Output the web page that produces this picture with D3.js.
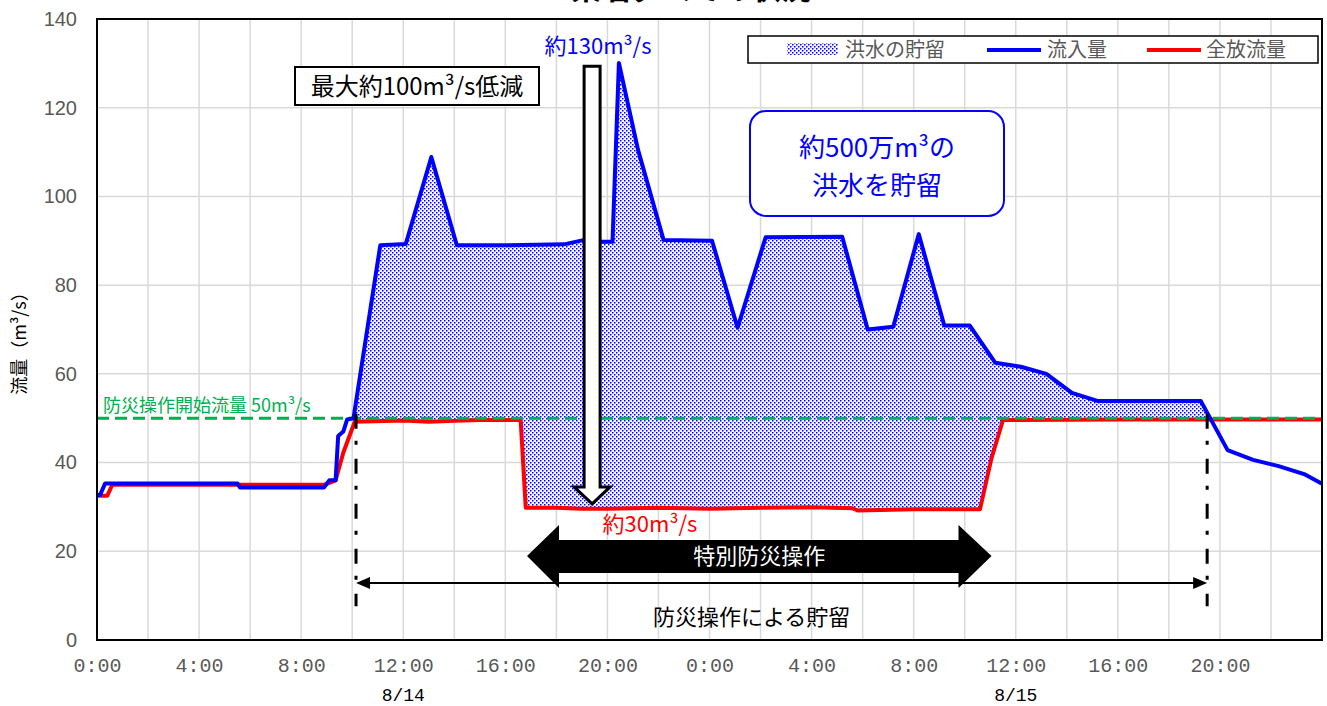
<!DOCTYPE html>
<html lang="ja">
<head>
<meta charset="utf-8">
<script src="https://cdn.jsdelivr.net/npm/d3@7"></script>
<style>
  html, body { margin: 0; padding: 0; background: #fff; }
  svg { display: block; }
  .jp { font-family: "Noto Sans CJK JP", "Noto Sans", sans-serif; }
</style>
</head>
<body>
<svg id="chart" width="1327" height="706"></svg>
<script>
// Hours counted from 8/13 0:00; values in m³/s
const inflowHours  = [0, 0.12, 0.32, 5.5, 5.6, 8.9, 9.1, 9.35, 9.45, 9.65, 9.8, 10.05, 11.1, 12.1, 13.1, 14.1, 16, 18.3, 19.1, 19.8, 20.2, 20.45, 21.2, 22.2, 24.1, 25.1, 26.2, 29.2, 30.2, 31.2, 32.2, 33.2, 34.2, 35.2, 36.2, 37.2, 38.2, 39.2, 43.25, 44.3, 45.3, 46.3, 47.3, 48];
const inflowValues = [32.7, 32.7, 35.3, 35.3, 34.4, 34.4, 36, 36, 46, 47, 49.7, 50, 89.0, 89.3, 108.9, 89.0, 89.0, 89.2, 90.2, 89.8, 89.8, 130.1, 110.5, 90.2, 90.0, 70.4, 90.8, 90.9, 70.0, 70.6, 91.5, 70.9, 70.9, 62.5, 61.6, 60.0, 55.7, 53.9, 53.9, 42.8, 40.6, 39.2, 37.4, 35.2];

const releaseHours  = [0, 0.4, 0.6, 8.9, 9.1, 9.35, 9.65, 10.1, 12, 13, 14, 15, 16.6, 16.8, 18, 19, 20, 22, 24, 26, 28, 29.6, 29.8, 32, 34.6, 35.05, 35.5, 40, 44, 48];
const releaseValues = [32.5, 32.5, 35, 35, 35.4, 36, 42.2, 49.2, 49.5, 49.2, 49.4, 49.6, 49.6, 29.8, 29.8, 29.6, 29.6, 29.8, 29.6, 29.8, 29.9, 29.7, 29.2, 29.5, 29.5, 41, 49.6, 49.7, 49.7, 49.7];

const thresholdValue = 50;              // 防災操作開始流量
const operationPeriod = [10.15, 43.5];  // 防災操作による貯留
const specialPeriod   = [16.85, 35.05]; // 特別防災操作
const reductionHour = 19.4;
const peakInflow = 130;
const specialRelease = 30;

const yTicks = [0, 20, 40, 60, 80, 100, 120, 140];
const xTickHours  = [0, 4, 8, 12, 16, 20, 24, 28, 32, 36, 40, 44];
const xTickLabels = ["0:00", "4:00", "8:00", "12:00", "16:00", "20:00", "0:00", "4:00", "8:00", "12:00", "16:00", "20:00"];
const dateHours  = [12, 36];
const dateLabels = ["8/14", "8/15"];

const legendLabels = ["洪水の貯留", "流入量", "全放流量"];

const BLUE = "#0000ff", RED = "#ff0000", GREEN = "#00b050", GRAY = "#595959";

const svg = d3.select("#chart");
const L = 97, R = 1322, T = 19, B = 640;
const x = d3.scaleLinear().domain([0, 48]).range([L, R]);
const y = d3.scaleLinear().domain([0, 140]).range([B, T]);

const inflow  = inflowHours.map((h, i) => [h, inflowValues[i]]);
const release = releaseHours.map((h, i) => [h, releaseValues[i]]);

// dotted fill pattern
const defs = svg.append("defs");
const pat = defs.append("pattern").attr("id", "dots")
  .attr("patternUnits", "userSpaceOnUse").attr("width", 4).attr("height", 4);
pat.append("rect").attr("width", 4).attr("height", 4).attr("fill", "#f6f7ff");
pat.append("rect").attr("x", 0).attr("y", 0).attr("width", 1.5).attr("height", 1.5).attr("fill", BLUE);
pat.append("rect").attr("x", 2).attr("y", 2).attr("width", 1.5).attr("height", 1.5).attr("fill", BLUE);

// title (runs off the top edge of the page)
svg.append("text").attr("class", "jp")
  .attr("x", 691).attr("y", -1).attr("text-anchor", "middle")
  .attr("font-size", 30).attr("font-weight", "bold").attr("fill", "#000")
  .text("某名ダムでの状況");

// gridlines
const grid = svg.append("g").attr("stroke", "#d9d9d9").attr("stroke-width", 1.5);
grid.selectAll(".gx").data(d3.range(2, 48, 2)).join("line")
  .attr("x1", d => x(d)).attr("x2", d => x(d)).attr("y1", T).attr("y2", B);
grid.selectAll(".gy").data(yTicks.slice(1, -1)).join("line")
  .attr("x1", L).attr("x2", R).attr("y1", d => y(d)).attr("y2", d => y(d));

// axes
const yAxis = svg.append("g").attr("transform", `translate(${L},0)`)
  .call(d3.axisLeft(y).tickValues(yTicks).tickSize(0).tickPadding(20));
yAxis.select(".domain").remove();
yAxis.selectAll("text").attr("font-family", "Liberation Sans, Arial, sans-serif")
  .attr("font-size", 20).attr("fill", GRAY);

const xAxis = svg.append("g").attr("transform", `translate(0,${B})`)
  .call(d3.axisBottom(x).tickValues(xTickHours).tickFormat((d, i) => xTickLabels[i]).tickSize(0).tickPadding(18));
xAxis.select(".domain").remove();
xAxis.selectAll("text").attr("font-family", "Liberation Mono, DejaVu Sans Mono, monospace")
  .attr("font-size", 20).attr("fill", GRAY);

svg.append("g").selectAll("text").data(dateHours).join("text")
  .attr("x", d => x(d)).attr("y", 701).attr("text-anchor", "middle")
  .attr("font-family", "Liberation Mono, DejaVu Sans Mono, monospace")
  .attr("font-size", 18).attr("fill", "#000")
  .text((d, i) => dateLabels[i]);

svg.append("text").attr("class", "jp")
  .attr("transform", "translate(26,339) rotate(-90)")
  .attr("text-anchor", "middle").attr("font-size", 18).attr("fill", "#000")
  .text("流量（m³/s）");

// storage area between inflow and release while inflow is above the threshold
function interp(series, h) {
  for (let i = 1; i < series.length; i++) {
    const [h0, v0] = series[i - 1], [h1, v1] = series[i];
    if (h <= h1) return h1 === h0 ? v1 : v0 + (v1 - v0) * (h - h0) / (h1 - h0);
  }
  return series[series.length - 1][1];
}
function crossings(series, level) {
  const out = [];
  for (let i = 1; i < series.length; i++) {
    const [h0, v0] = series[i - 1], [h1, v1] = series[i];
    if ((v0 - level) * (v1 - level) < 0 || (v0 < level && v1 === level)) {
      out.push(h0 + (level - v0) * (h1 - h0) / (v1 - v0));
    }
  }
  return out;
}
const cross = crossings(inflow, thresholdValue);
const fillStart = cross[0], fillEnd = cross[cross.length - 1];
const fillHours = Array.from(new Set([fillStart, fillEnd]
  .concat(inflowHours, releaseHours).filter(h => h >= fillStart && h <= fillEnd))).sort((a, b) => a - b);
const area = d3.area()
  .x(h => x(h))
  .y0(h => y(Math.min(interp(release, h), interp(inflow, h))))
  .y1(h => y(interp(inflow, h)));
svg.append("path").datum(fillHours).attr("d", area).attr("fill", "url(#dots)");

// lines
const line = d3.line().x(d => x(d[0])).y(d => y(d[1]));
svg.append("path").datum(release).attr("d", line)
  .attr("fill", "none").attr("stroke", RED).attr("stroke-width", 4).attr("stroke-linejoin", "round");
svg.append("line").attr("x1", L).attr("x2", R).attr("y1", y(thresholdValue)).attr("y2", y(thresholdValue))
  .attr("stroke", GREEN).attr("stroke-width", 3).attr("stroke-dasharray", "12,6");
svg.append("path").datum(inflow).attr("d", line)
  .attr("fill", "none").attr("stroke", BLUE).attr("stroke-width", 4).attr("stroke-linejoin", "round");

svg.append("text").attr("class", "jp")
  .attr("x", 103).attr("y", 412).attr("font-size", 18).attr("fill", GREEN)
  .text("防災操作開始流量  50m³/s");

// operation period markers
svg.append("g").selectAll("line").data(operationPeriod).join("line")
  .attr("x1", d => x(d)).attr("x2", d => x(d)).attr("y1", y(51)).attr("y2", y(7.6))
  .attr("stroke", "#000").attr("stroke-width", 3).attr("stroke-dasharray", "15,12,4,14");

const arrY = 583;
const xa = x(operationPeriod[0]), xb = x(operationPeriod[1]);
svg.append("line").attr("x1", xa + 6).attr("x2", xb - 6).attr("y1", arrY).attr("y2", arrY)
  .attr("stroke", "#000").attr("stroke-width", 2);
svg.append("path").attr("d", `M${xa},${arrY} L${xa + 14},${arrY - 6} L${xa + 14},${arrY + 6} Z M${xb},${arrY} L${xb - 14},${arrY - 6} L${xb - 14},${arrY + 6} Z`)
  .attr("fill", "#000");
svg.append("text").attr("class", "jp")
  .attr("x", (xa + xb) / 2 - 30).attr("y", 625).attr("text-anchor", "middle")
  .attr("font-size", 22).attr("fill", "#000").text("防災操作による貯留");

// special operation double arrow
const sa = x(specialPeriod[0]), sb = x(specialPeriod[1]), sy = 556;
svg.append("path").attr("d",
  `M${sa},${sy} L${sa + 32},${sy - 31} L${sa + 32},${sy - 16} L${sb - 33},${sy - 16} L${sb - 33},${sy - 31} L${sb},${sy} ` +
  `L${sb - 33},${sy + 32} L${sb - 33},${sy + 17} L${sa + 32},${sy + 17} L${sa + 32},${sy + 32} Z`)
  .attr("fill", "#000");
svg.append("text").attr("class", "jp")
  .attr("x", (sa + sb) / 2).attr("y", sy + 8).attr("text-anchor", "middle")
  .attr("font-size", 22).attr("fill", "#fff").text("特別防災操作");

// reduction arrow from peak inflow down to release
const ax = x(reductionHour), aTop = y(peakInflow) + 3, aTip = y(specialRelease) - 3;
svg.append("path").attr("d",
  `M${ax - 8},${aTop} L${ax + 8},${aTop} L${ax + 8},${aTip - 17} L${ax + 18},${aTip - 17} L${ax},${aTip} ` +
  `L${ax - 18},${aTip - 17} L${ax - 8},${aTip - 17} Z`)
  .attr("fill", "#fff").attr("stroke", "#000").attr("stroke-width", 3);

svg.append("text").attr("class", "jp")
  .attr("x", 598).attr("y", 54).attr("text-anchor", "middle")
  .attr("font-size", 22).attr("fill", BLUE).text("約130m³/s");
svg.append("text").attr("class", "jp")
  .attr("x", 650).attr("y", 532).attr("text-anchor", "middle")
  .attr("font-size", 22).attr("fill", RED).text("約30m³/s");

// boxed annotations
svg.append("rect").attr("x", 295).attr("y", 67).attr("width", 244).attr("height", 38)
  .attr("fill", "#fff").attr("stroke", "#000").attr("stroke-width", 2);
svg.append("text").attr("class", "jp")
  .attr("x", 417).attr("y", 95).attr("text-anchor", "middle")
  .attr("font-size", 24).attr("fill", "#000").text("最大約100m³/s低減");

svg.append("rect").attr("x", 750).attr("y", 111).attr("width", 254).attr("height", 105)
  .attr("rx", 16).attr("ry", 16)
  .attr("fill", "#fff").attr("stroke", BLUE).attr("stroke-width", 2);
svg.append("text").attr("class", "jp")
  .attr("x", 877).attr("y", 157).attr("text-anchor", "middle")
  .attr("font-size", 26).attr("fill", BLUE).text("約500万m³の");
svg.append("text").attr("class", "jp")
  .attr("x", 877).attr("y", 195).attr("text-anchor", "middle")
  .attr("font-size", 26).attr("fill", BLUE).text("洪水を貯留");

// legend
const lg = svg.append("g");
lg.append("rect").attr("x", 748).attr("y", 36).attr("width", 570).attr("height", 27)
  .attr("fill", "#fff").attr("stroke", "#000").attr("stroke-width", 1.5);
lg.append("rect").attr("x", 787).attr("y", 43).attr("width", 51).attr("height", 12).attr("fill", "url(#dots)");
lg.append("line").attr("x1", 987).attr("x2", 1041).attr("y1", 50).attr("y2", 50).attr("stroke", BLUE).attr("stroke-width", 4);
lg.append("line").attr("x1", 1147).attr("x2", 1201).attr("y1", 50).attr("y2", 50).attr("stroke", RED).attr("stroke-width", 4);
lg.selectAll("text").data(legendLabels).join("text").attr("class", "jp")
  .attr("x", (d, i) => [845, 1047, 1206][i]).attr("y", 57)
  .attr("font-size", 20).attr("fill", GRAY).text(d => d);

// plot frame
svg.append("rect").attr("x", L).attr("y", T).attr("width", R - L).attr("height", B - T)
  .attr("fill", "none").attr("stroke", "#000").attr("stroke-width", 2);
</script>
</body>
</html>
